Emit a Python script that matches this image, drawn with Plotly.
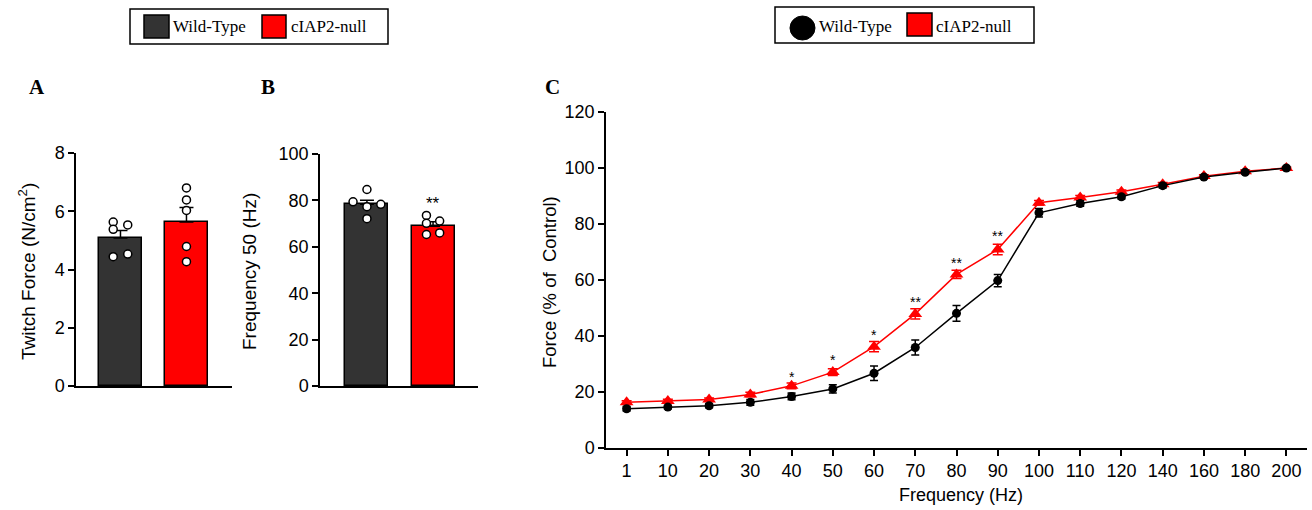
import plotly.graph_objects as go

W, H = 1312, 510

# ---------------- data ----------------
groups = ["Wild-Type", "cIAP2-null"]

# Panel A: twitch force (N/cm^2)
a_means = [5.08, 5.63]
a_sem = [0.26, 0.50]
a_wt_points = [5.63, 5.38, 5.53, 4.44, 4.53]
a_ko_points = [6.80, 6.39, 6.03, 4.79, 4.27]
a_wt_jitter = [-0.11, -0.11, 0.11, -0.11, 0.11]
a_ko_jitter = [0.0, 0.0, 0.0, 0.0, 0.0]

# Panel B: frequency 50 (Hz)
b_means = [78.3, 68.9]
b_sem = [1.8, 1.9]
b_wt_points = [84.7, 79.4, 77.3, 78.3, 72.1]
b_ko_points = [73.5, 70.1, 71.1, 65.3, 66.0]
b_wt_jitter = [0.0, -0.21, 0.0, 0.21, 0.0]
b_ko_jitter = [-0.1, -0.1, 0.1, -0.1, 0.1]
b_sig = "**"
b_sig_y = 80.6

# Panel C: force-frequency
freq_labels = ["1", "10", "20", "30", "40", "50", "60", "70", "80", "90",
               "100", "110", "120", "140", "160", "180", "200"]
wt_force = [14.0, 14.6, 15.1, 16.3, 18.4, 21.1, 26.7, 35.9, 48.1, 59.8,
            84.0, 87.3, 89.7, 93.7, 96.8, 98.5, 100.0]
wt_err = [0.8, 0.7, 0.7, 1.0, 1.2, 1.5, 2.6, 2.7, 2.8, 2.2,
          1.5, 1.0, 0.8, 0.8, 0.6, 0.6, 0.5]
ko_force = [16.3, 16.8, 17.3, 19.1, 22.2, 27.1, 36.2, 47.9, 62.0, 70.9,
            87.6, 89.5, 91.5, 94.2, 97.1, 98.8, 100.0]
ko_err = [0.6, 0.6, 0.6, 0.8, 1.0, 1.2, 1.8, 1.8, 1.5, 1.9,
          0.8, 0.7, 0.6, 0.6, 0.5, 0.5, 0.3]
sig_freqs = ["40", "50", "60", "70", "80", "90"]
sig_marks = ["*", "*", "*", "**", "**", "**"]
sig_y = [26.7, 32.7, 41.9, 53.6, 67.4, 77.2]

# ---------------- style ----------------
WT_BAR = "#333333"
KO = "#ff0000"
SANS = "Liberation Sans, Arial, sans-serif"
SERIF = "Liberation Serif, Times New Roman, serif"
TICK = 18


def px(x):
    return x / W


def py(y):
    return 1 - y / H


fig = go.Figure()

# Panel A bars
fig.add_trace(go.Bar(
    x=[0, 1], y=a_means, width=0.65,
    marker=dict(color=[WT_BAR, KO], line=dict(color="black", width=1.5)),
    error_y=dict(type="data", symmetric=False, array=a_sem, arrayminus=[0, 0],
                 color="black", thickness=1.5, width=7),
    xaxis="x", yaxis="y", showlegend=False))
fig.add_trace(go.Scatter(
    x=[0 + j for j in a_wt_jitter] + [1 + j for j in a_ko_jitter],
    y=a_wt_points + a_ko_points, mode="markers",
    marker=dict(symbol="circle", size=8, color="white", line=dict(color="black", width=1.5)),
    xaxis="x", yaxis="y", showlegend=False, cliponaxis=False))

# Panel B bars
fig.add_trace(go.Bar(
    x=[0, 1], y=b_means, width=0.65,
    marker=dict(color=[WT_BAR, KO], line=dict(color="black", width=1.5)),
    error_y=dict(type="data", symmetric=False, array=b_sem, arrayminus=[0, 0],
                 color="black", thickness=1.5, width=7),
    xaxis="x2", yaxis="y2", showlegend=False))
fig.add_trace(go.Scatter(
    x=[0 + j for j in b_wt_jitter] + [1 + j for j in b_ko_jitter],
    y=b_wt_points + b_ko_points, mode="markers",
    marker=dict(symbol="circle", size=8, color="white", line=dict(color="black", width=1.5)),
    xaxis="x2", yaxis="y2", showlegend=False, cliponaxis=False))

# Panel C lines
fig.add_trace(go.Scatter(
    x=freq_labels, y=ko_force, mode="lines+markers",
    line=dict(color=KO, width=1.5),
    marker=dict(symbol="triangle-up", size=12, color=KO),
    error_y=dict(type="data", array=ko_err, color=KO, thickness=1.5, width=5),
    xaxis="x3", yaxis="y3", showlegend=False, cliponaxis=False))
fig.add_trace(go.Scatter(
    x=freq_labels, y=wt_force, mode="lines+markers",
    line=dict(color="black", width=1.5),
    marker=dict(symbol="circle", size=9, color="black"),
    error_y=dict(type="data", array=wt_err, color="black", thickness=1.5, width=4),
    xaxis="x3", yaxis="y3", showlegend=False, cliponaxis=False))

axis_common = dict(showline=True, linecolor="black", linewidth=1.5, showgrid=False,
                   zeroline=False, mirror=False, automargin=False)
ytick_common = dict(ticks="outside", ticklen=6, tickwidth=1.5, tickcolor="black",
                    tickfont=dict(family=SANS, size=TICK, color="black"))

annotations = []
# panel letters
for lab, x in [("A", 37), ("B", 268), ("C", 552)]:
    annotations.append(dict(text=f"<b>{lab}</b>", x=px(x), y=py(87), xref="paper", yref="paper",
                            showarrow=False, font=dict(family=SERIF, size=21, color="black"),
                            xanchor="center", yanchor="middle"))
# y axis titles
for txt, x, yc, fs in [("Twitch Force (N/cm<sup>2</sup>)", 27, 272, 19),
                       ("Frequency 50 (Hz)", 249, 272, 19),
                       ("Force (% of  Control)", 549, 282, 18.5)]:
    annotations.append(dict(text=txt, x=px(x), y=py(yc), xref="paper", yref="paper",
                            showarrow=False, textangle=-90,
                            font=dict(family=SANS, size=fs, color="black"),
                            xanchor="center", yanchor="middle"))
annotations.append(dict(text="Frequency (Hz)", x=px(961), y=py(495), xref="paper", yref="paper",
                        showarrow=False, font=dict(family=SANS, size=18, color="black"),
                        xanchor="center", yanchor="middle"))
# significance marks
annotations.append(dict(text=b_sig, x=1, y=b_sig_y, xref="x2", yref="y2", showarrow=False,
                        font=dict(family=SANS, size=17, color="black"), yshift=-4))
for f, m, yv in zip(sig_freqs, sig_marks, sig_y):
    annotations.append(dict(text=m, x=freq_labels.index(f), y=yv, xref="x3", yref="y3",
                            showarrow=False,
                            font=dict(family=SANS, size=14, color="black"), yshift=-4))

# legend texts
for txt, x in [("Wild-Type", 171), ("cIAP2-null", 289), ("Wild-Type", 817), ("cIAP2-null", 934)]:
    annotations.append(dict(text=txt, x=px(x), y=py(26), xref="paper", yref="paper",
                            showarrow=False, xanchor="left", yanchor="middle",
                            font=dict(family=SERIF, size=17, color="black")))

shapes = [
    # left legend
    dict(type="rect", xref="paper", yref="paper", x0=px(130), x1=px(388), y0=py(44), y1=py(9),
         line=dict(color="black", width=1.5), fillcolor="white"),
    dict(type="rect", xref="paper", yref="paper", x0=px(144), x1=px(169), y0=py(38), y1=py(15),
         line=dict(color="black", width=1.5), fillcolor=WT_BAR),
    dict(type="rect", xref="paper", yref="paper", x0=px(262), x1=px(286), y0=py(38), y1=py(15),
         line=dict(color="black", width=1.5), fillcolor=KO),
    # right legend
    dict(type="rect", xref="paper", yref="paper", x0=px(775), x1=px(1034), y0=py(43), y1=py(7),
         line=dict(color="black", width=1.5), fillcolor="white"),
    dict(type="circle", xref="paper", yref="paper", x0=px(790), x1=px(815), y0=py(40), y1=py(16),
         line=dict(color="black", width=1), fillcolor="black"),
    dict(type="rect", xref="paper", yref="paper", x0=px(907), x1=px(932), y0=py(36), y1=py(13),
         line=dict(color="black", width=1.5), fillcolor=KO),
]

fig.update_layout(
    width=W, height=H, margin=dict(l=0, r=0, t=0, b=0, autoexpand=False),
    paper_bgcolor="white", plot_bgcolor="white",
    bargap=0,
    xaxis=dict(domain=[px(76), px(232)], range=[-0.674, 1.69], showticklabels=False,
               ticks="", anchor="y", **axis_common),
    yaxis=dict(domain=[py(386), py(153)], range=[0, 8], tickvals=[0, 2, 4, 6, 8],
               anchor="x", **axis_common, **ytick_common),
    xaxis2=dict(domain=[px(320), px(478)], range=[-0.71, 1.68], showticklabels=False,
                ticks="", anchor="y2", **axis_common),
    yaxis2=dict(domain=[py(386), py(154)], range=[0, 100], tickvals=[0, 20, 40, 60, 80, 100],
                anchor="x2", **axis_common, **ytick_common),
    xaxis3=dict(domain=[px(606), px(1307)], type="category", range=[-0.5, 16.5],
                anchor="y3", ticks="outside", ticklen=6, tickwidth=1.5, tickcolor="black",
                tickfont=dict(family=SANS, size=TICK, color="black"), **axis_common),
    yaxis3=dict(domain=[py(448), py(112)], range=[0, 120],
                tickvals=[0, 20, 40, 60, 80, 100, 120],
                anchor="x3", **axis_common, **ytick_common),
    annotations=annotations,
    shapes=shapes,
)

fig.write_html("out.html")
